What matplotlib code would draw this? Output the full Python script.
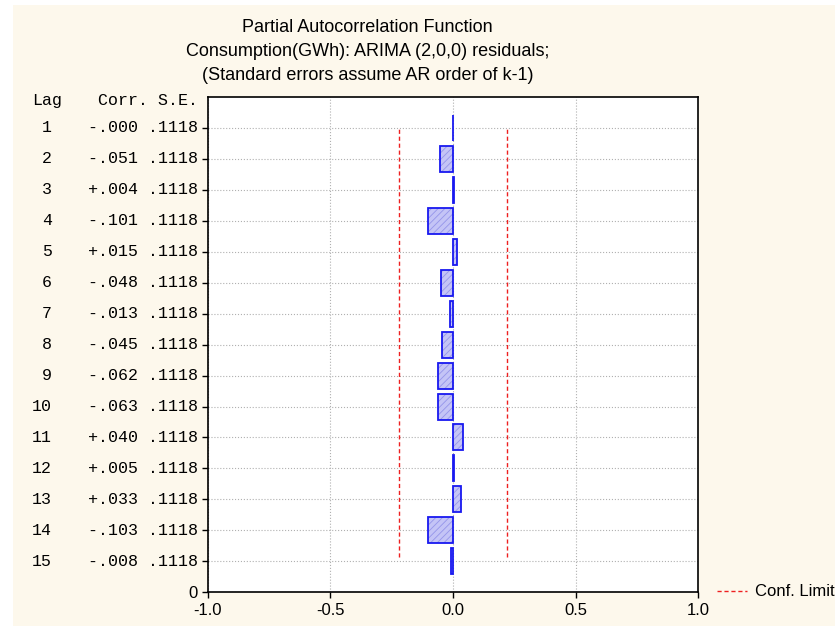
import matplotlib.pyplot as plt
from matplotlib.patches import Rectangle

lags = [1, 2, 3, 4, 5, 6, 7, 8, 9, 10, 11, 12, 13, 14, 15]
corr = [-0.000, -0.051, 0.004, -0.101, 0.015, -0.048, -0.013, -0.045,
        -0.062, -0.063, 0.040, 0.005, 0.033, -0.103, -0.008]
corr_txt = ["-.000", "-.051", "+.004", "-.101", "+.015", "-.048", "-.013", "-.045",
            "-.062", "-.063", "+.040", "+.005", "+.033", "-.103", "-.008"]
se_txt = [".1118"] * 15
conf = 0.219
xticks = [-1.0, -0.5, 0.0, 0.5, 1.0]

plt.rcParams['font.family'] = ['Liberation Sans', 'DejaVu Sans']
plt.rcParams['hatch.linewidth'] = 0.6

bg = "#fdf8ec"
fig = plt.figure(figsize=(8.35, 6.26), dpi=100, facecolor="white")
# cream panel (thin white strip at top and left like the source)
fig.patches.append(Rectangle((13 / 835, 0), 1, 1 - 5 / 626, transform=fig.transFigure,
                             facecolor=bg, edgecolor="none", zorder=-1))
ax = fig.add_axes([0.249, 0.054, 0.587, 0.791])

ypos = [16 - k for k in lags]
# hatched fill, then blue outline on top
ax.barh(ypos, corr, height=0.84, color="#c4c4f6", edgecolor="#9494ea",
        linewidth=0, hatch="/////", zorder=3)
ax.barh(ypos, corr, height=0.84, color="none", edgecolor="#1818f0",
        linewidth=1.3, zorder=4)
ax.vlines([-conf, conf], 1.13, 15.0, colors="#ee2020", linestyles=(0, (3, 2)),
          linewidth=1, zorder=2, label="Conf. Limit")

ax.set_xlim(-1, 1)
ax.set_ylim(0, 16)
ax.set_xticks(xticks)
ax.set_xticklabels(["%.1f" % v for v in xticks], fontsize=12)
ax.set_yticks([0] + ypos)
ax.set_yticklabels(["0"] + [""] * 15, fontsize=12)
ax.grid(True, color="#b0b0b0", linestyle=":", linewidth=0.8, zorder=0)
ax.tick_params(direction="out", length=4, width=1)
for s in ax.spines.values():
    s.set_linewidth(1.2)

# left side table
tr = ax.get_yaxis_transform()
for k in range(15):
    ax.text(-0.318, ypos[k], str(lags[k]), transform=tr, ha="right", va="center",
            family="Liberation Mono", fontsize=12)
    ax.text(-0.02, ypos[k], corr_txt[k] + " " + se_txt[k], transform=tr, ha="right",
            va="center", family="Liberation Mono", fontsize=12)
ax.text(-0.359, 15.9, "Lag", transform=tr, ha="left", va="center",
        family="Liberation Mono", fontsize=12)
ax.text(-0.02, 15.9, "Corr. S.E.", transform=tr, ha="right", va="center",
        family="Liberation Mono", fontsize=12)

fig.text(0.44, 1 - 27 / 626, "Partial Autocorrelation Function", ha="center", va="center", fontsize=13)
fig.text(0.44, 1 - 51 / 626, "Consumption(GWh): ARIMA (2,0,0) residuals;", ha="center", va="center", fontsize=13)
fig.text(0.44, 1 - 75 / 626, "(Standard errors assume AR order of k-1)", ha="center", va="center", fontsize=13)

leg = fig.legend(loc="center left", bbox_to_anchor=(717 / 835, 1 - 592 / 626), frameon=False,
                 fontsize=12, handlelength=1.8, handletextpad=0.5, borderaxespad=0,
                 borderpad=0)

fig.savefig("out.png", dpi=100, facecolor="white")
